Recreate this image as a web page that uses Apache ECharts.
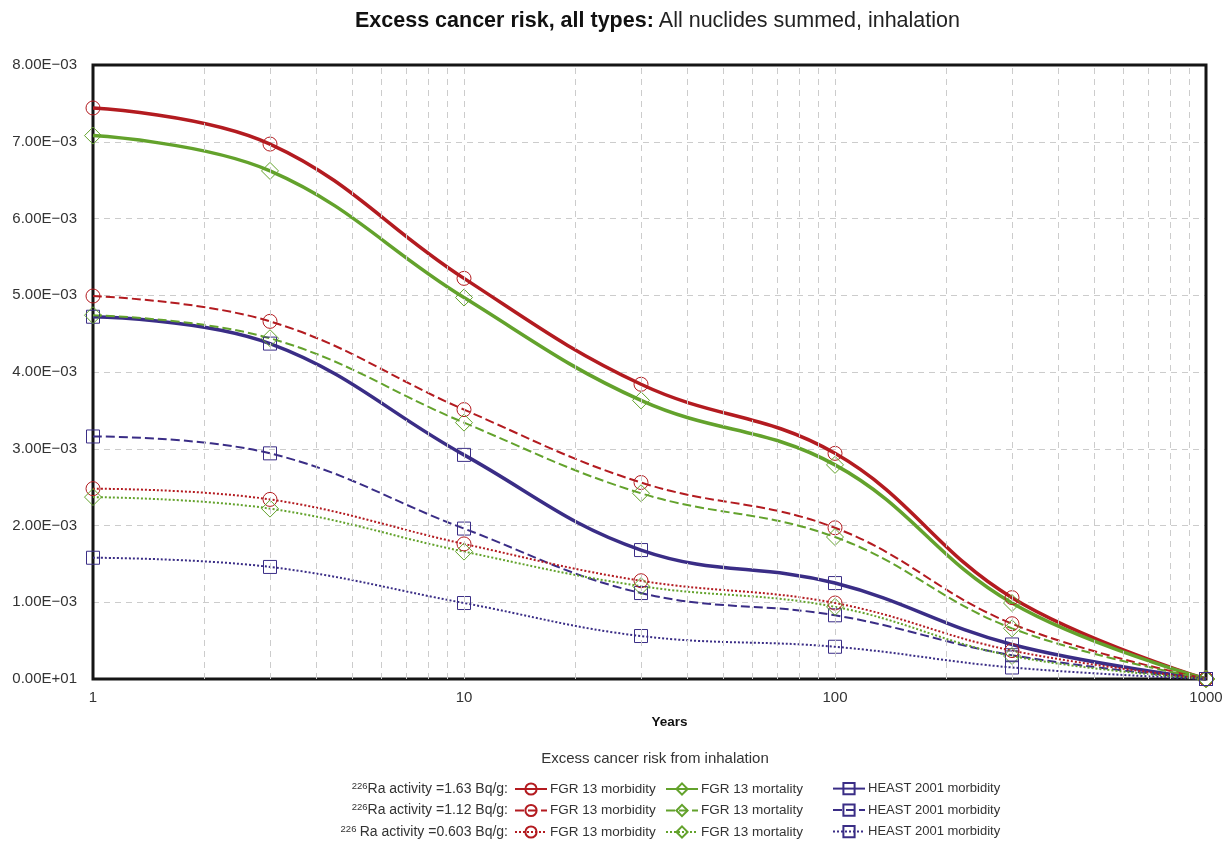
<!DOCTYPE html>
<html>
<head>
<meta charset="utf-8">
<script src="https://cdn.jsdelivr.net/npm/echarts@6/dist/echarts.min.js"></script>
<style>
html,body{margin:0;padding:0;background:#fff;}
#chart{width:1229px;height:842px;}
</style>
</head>
<body>
<div id="chart"></div>
<script>
// ---------- data ----------
const years = [1, 3, 10, 30, 100, 300, 1000];
const minorGridYears = [2,3,4,5,6,7,8,9,10,20,30,40,50,60,70,80,90,100,200,300,400,500,600,700,800,900];
const yTicks = [0, 0.001, 0.002, 0.003, 0.004, 0.005, 0.006, 0.007, 0.008];

// activity 1.63 Bq/g
const fgrMorb163 = [7.44e-3, 6.97e-3, 5.22e-3, 3.84e-3, 2.94e-3, 1.06e-3, 0];
const fgrMort163 = [7.08e-3, 6.62e-3, 4.97e-3, 3.63e-3, 2.79e-3, 0.99e-3, 0];
const heast163   = [4.72e-3, 4.37e-3, 2.92e-3, 1.68e-3, 1.25e-3, 0.45e-3, 0];
// activity 1.12 Bq/g
const fgrMorb112 = [4.99e-3, 4.66e-3, 3.51e-3, 2.56e-3, 1.97e-3, 0.72e-3, 0];
const fgrMort112 = [4.74e-3, 4.44e-3, 3.34e-3, 2.42e-3, 1.85e-3, 0.66e-3, 0];
const heast112   = [3.16e-3, 2.94e-3, 1.96e-3, 1.12e-3, 0.83e-3, 0.31e-3, 0];
// activity 0.603 Bq/g
const fgrMorb0603 = [2.48e-3, 2.34e-3, 1.76e-3, 1.28e-3, 0.99e-3, 0.37e-3, 0];
const fgrMort0603 = [2.37e-3, 2.22e-3, 1.66e-3, 1.21e-3, 0.94e-3, 0.30e-3, 0];
const heast0603   = [1.58e-3, 1.46e-3, 0.99e-3, 0.56e-3, 0.42e-3, 0.15e-3, 0];

const rowLabels = ['1.63', '1.12', '0.603'];

// ---------- styles ----------
const RED = '#b31b20', GREEN = '#63a22c', BLUE = '#3a2d86';
const FONT = 'Liberation Sans, Arial, sans-serif';

function mk(name, data, color, symbol, size, lineType, width) {
  return {
    name: name,
    type: 'line',
    data: years.map((y, i) => [y, data[i]]),
    smooth: 0.4,
    symbol: symbol,
    symbolSize: size,
    showSymbol: true,
    clip: false,
    z: 3,
    lineStyle: { color: color, width: width, type: lineType },
    itemStyle: { color: 'rgba(255,255,255,0)', borderColor: color, borderWidth: 1 },
    emphasis: { disabled: true },
    animation: false
  };
}

const DASH = [9, 4];
const DOT = [2, 2];

const seriesDefs = [
  ['FGR 13 morbidity · 1.63', fgrMorb163, RED, 'circle', 14, 'solid', 3.5],
  ['FGR 13 mortality · 1.63', fgrMort163, GREEN, 'diamond', 17, 'solid', 3.5],
  ['HEAST 2001 morbidity · 1.63', heast163, BLUE, 'rect', 13, 'solid', 3.5],
  ['FGR 13 morbidity · 1.12', fgrMorb112, RED, 'circle', 14, DASH, 2],
  ['FGR 13 mortality · 1.12', fgrMort112, GREEN, 'diamond', 17, DASH, 2],
  ['HEAST 2001 morbidity · 1.12', heast112, BLUE, 'rect', 13, DASH, 2],
  ['FGR 13 morbidity · 0.603', fgrMorb0603, RED, 'circle', 14, DOT, 2],
  ['FGR 13 mortality · 0.603', fgrMort0603, GREEN, 'diamond', 17, DOT, 2],
  ['HEAST 2001 morbidity · 0.603', heast0603, BLUE, 'rect', 13, DOT, 2]
];

const series = seriesDefs.map(d => mk(...d));

// vertical grid lines (log minor grid)
series.unshift({
  name: '_grid',
  type: 'line',
  data: [[1, 0]],
  showSymbol: false,
  symbol: 'none',
  lineStyle: { width: 0 },
  z: 1,
  silent: true,
  animation: false,
  markLine: {
    silent: true,
    symbol: ['none', 'none'],
    label: { show: false },
    animation: false,
    lineStyle: { color: '#cccccc', type: [6, 5], width: 1 },
    data: minorGridYears.map(v => ({ xAxis: v }))
  }
});

// one legend per item, laid out as 3 columns x 3 rows
const colLeft = [514, 665, 832];
const rowTop = [782, 803.5, 825];
const legends = seriesDefs.map((d, idx) => ({
  orient: 'horizontal',
  left: colLeft[idx % 3],
  top: rowTop[Math.floor(idx / 3)],
  padding: 0,
  itemWidth: 32,
  itemHeight: 14,
  selectedMode: false,
  data: [d[0]],
  formatter: n => n.split(' · ')[0],
  textStyle: {
    fontFamily: FONT,
    fontSize: idx % 3 === 2 ? 13 : 13.5,
    color: '#333',
    padding: idx % 3 === 2 ? [2, 0, 0, -2] : [0, 0, 0, -2]
  }
}));

const chart = echarts.init(document.getElementById('chart'), null, { renderer: 'canvas' });

const option = {
  backgroundColor: '#ffffff',
  animation: false,
  title: {
    text: '{b|Excess cancer risk, all types:} {n|All nuclides summed, inhalation}',
    left: 350,
    top: 5,
    textStyle: {
      rich: {
        b: { fontFamily: FONT, fontSize: 21.5, fontWeight: 'bold', color: '#111' },
        n: { fontFamily: FONT, fontSize: 21.5, fontWeight: 'normal', color: '#222' }
      }
    }
  },
  grid: {
    left: 93, right: 23, top: 65, bottom: 163,
    show: true,
    borderColor: '#151515',
    borderWidth: 3,
    backgroundColor: 'rgba(0,0,0,0)',
    z: 2
  },
  xAxis: {
    type: 'log',
    logBase: 10,
    min: 1,
    max: 1000,
    name: 'Years',
    nameLocation: 'middle',
    nameGap: 36,
    nameTextStyle: { fontFamily: FONT, fontSize: 13.5, fontWeight: 'bold', color: '#111', padding: [0, 0, 0, 40] },
    axisLine: { show: false },
    axisTick: { show: false },
    splitLine: { show: false },
    axisLabel: { fontFamily: FONT, fontSize: 15, color: '#333', margin: 11, formatter: v => String(v) }
  },
  yAxis: {
    type: 'value',
    min: yTicks[0],
    max: yTicks[yTicks.length - 1],
    interval: 0.001,
    axisLine: { show: false },
    axisTick: { show: false },
    splitLine: { show: true, lineStyle: { color: '#cccccc', type: [6, 5], width: 1 } },
    axisLabel: {
      fontFamily: FONT, fontSize: 15, color: '#333', margin: 16,
      formatter: v => v === 0 ? '0.00E+01' : (v * 1000).toFixed(2) + 'E\u221203'
    }
  },
  legend: legends,
  graphic: [
    {
      type: 'text', x: 655, y: 759, z: 10,
      style: { text: 'Excess cancer risk from inhalation', align: 'center', verticalAlign: 'middle', fontFamily: FONT, fontSize: 15, fill: '#333' }
    }
  ].concat(rowLabels.map((v, i) => ({
    type: 'text',
    z: 10,
    x: 508,
    y: 789 + i * 21.5,
    style: {
      text: (i === 2 ? '{s|226} ' : '{s|226}') + '{m|Ra activity =' + v + ' Bq/g:}',
      align: 'right',
      verticalAlign: 'middle',
      rich: {
        s: { fontFamily: FONT, fontSize: 9.5, fill: '#333', verticalAlign: 'top', lineHeight: 9 },
        m: { fontFamily: FONT, fontSize: 14, fill: '#333', lineHeight: 16 }
      }
    }
  }))),
  series: series
};

chart.setOption(option);
</script>
</body>
</html>
